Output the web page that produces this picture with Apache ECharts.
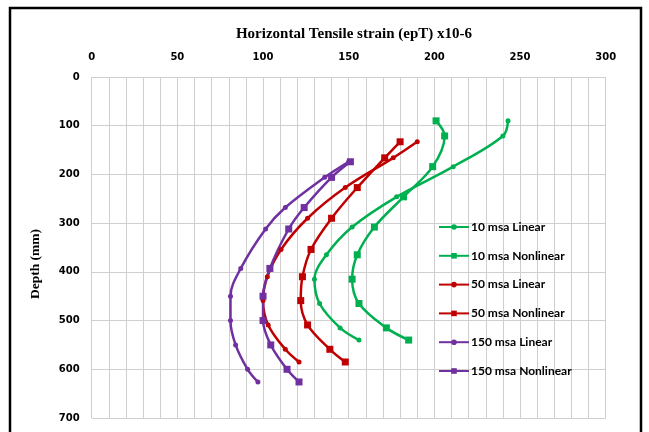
<!DOCTYPE html>
<html>
<head>
<meta charset="utf-8">
<script src="https://cdn.jsdelivr.net/npm/echarts@6/dist/echarts.min.js"></script>
<style>
  html, body { margin: 0; padding: 0; background: #ffffff; }
  #chart { width: 649px; height: 432px; }
</style>
</head>
<body>
<div id="chart"></div>
<script>
// Depth (mm) at which strain was computed, per traffic level
const depth10 = [90, 121, 184, 246, 308, 365, 415, 465, 515, 540];
const depth50 = [133, 166, 227, 290, 354, 410, 459, 509, 559, 585];
const depth150 = [174, 206, 268, 312, 393, 450, 500, 550, 600, 626];

// Horizontal tensile strain (x10-6)
const lin10 = [243, 240, 211, 178, 152, 137, 130, 133, 145, 156];
const non10 = [201, 206, 199, 182, 165, 155, 152, 156, 172, 185];
const lin50 = [190, 176, 148, 126, 110.5, 102.5, 100, 103, 113, 121];
const non50 = [180, 171, 155, 140, 128, 123, 122, 126, 139, 148];
const lin150 = [150, 136, 113, 101.5, 87, 81, 81, 84, 91, 97];
const non150 = [151, 140, 124, 115, 104, 100, 100, 104.5, 114, 121];

const seriesNames = ['10 msa Linear', '10 msa Nonlinear', '50 msa Linear',
  '50 msa Nonlinear', '150 msa Linear', '150 msa Nonlinear'];

const GREEN = '#00b050', RED = '#c00000', PURPLE = '#7030a0';

function pairs(xs, ys) { return xs.map((x, i) => [x, ys[i]]); }

function makeSeries(name, xs, ys, color, symbol) {
  return {
    name: name,
    type: 'line',
    data: pairs(xs, ys),
    smooth: 0.35,
    symbol: symbol,
    symbolSize: symbol === 'rect' ? 7 : 5,
    lineStyle: { color: color, width: 2.5 },
    itemStyle: { color: color },
    emphasis: { disabled: true }
  };
}

const chart = echarts.init(document.getElementById('chart'), null, { renderer: 'canvas' });

chart.setOption({
  animation: false,
  backgroundColor: '#ffffff',
  title: {
    text: 'Horizontal Tensile strain (epT) x10-6',
    left: 349, top: 22, textAlign: 'center',
    textStyle: { fontFamily: 'Liberation Serif', fontWeight: 'bold', fontSize: 15, color: '#000' }
  },
  grid: { left: 91.7, right: 43.3, top: 77, bottom: 14, containLabel: false },
  legend: {
    orient: 'vertical',
    left: 438, top: 221, padding: 0,
    itemWidth: 30, itemHeight: 7, itemGap: 16.8,
    data: seriesNames,
    textStyle: { fontFamily: 'Lato', fontWeight: 'bold', fontSize: 12, color: '#000', padding: [0, 0, 0, -3] }
  },
  xAxis: {
    type: 'value', position: 'top',
    min: 0, max: 300, interval: 50,
    axisLine: { show: false }, axisTick: { show: false },
    axisLabel: { margin: 15, fontFamily: 'DejaVu Sans', fontWeight: 'bold', fontSize: 10, color: '#000' },
    splitLine: { show: true, lineStyle: { color: '#cfcfcf', width: 1 } },
    minorTick: { show: false, splitNumber: 5 },
    minorSplitLine: { show: true, lineStyle: { color: '#cfcfcf', width: 1 } }
  },
  yAxis: {
    type: 'value', inverse: true,
    min: 0, max: 700, interval: 100,
    axisLine: { show: false }, axisTick: { show: false },
    axisLabel: { margin: 12, fontFamily: 'DejaVu Sans', fontWeight: 'bold', fontSize: 10, color: '#000' },
    splitLine: { show: true, lineStyle: { color: '#cfcfcf', width: 1 } }
  },
  graphic: [
    {
      type: 'rect', silent: true,
      shape: { x: 10, y: 8, width: 631, height: 440 },
      style: { fill: 'none', stroke: '#000', lineWidth: 2.5 }
    },
    {
      type: 'text', silent: true,
      x: 36, y: 264, rotation: Math.PI / 2,
      style: {
        text: 'Depth (mm)', align: 'center', verticalAlign: 'middle',
        font: 'bold 13.5px "Liberation Serif"', fill: '#000'
      }
    }
  ],
  series: [
    makeSeries(seriesNames[0], lin10, depth10, GREEN, 'circle'),
    makeSeries(seriesNames[1], non10, depth10, GREEN, 'rect'),
    makeSeries(seriesNames[2], lin50, depth50, RED, 'circle'),
    makeSeries(seriesNames[3], non50, depth50, RED, 'rect'),
    makeSeries(seriesNames[4], lin150, depth150, PURPLE, 'circle'),
    makeSeries(seriesNames[5], non150, depth150, PURPLE, 'rect')
  ]
});
</script>
</body>
</html>
